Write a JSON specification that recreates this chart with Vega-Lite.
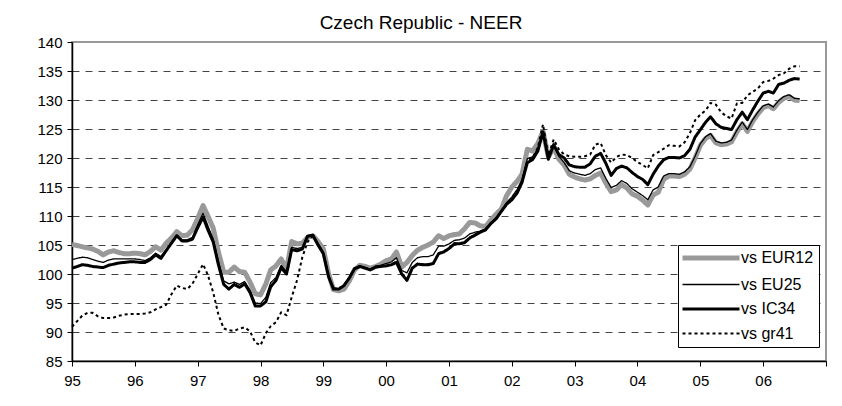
{
  "$schema": "https://vega.github.io/schema/vega-lite/v6.json",
  "width": 754,
  "height": 319,
  "autosize": {"type": "none"},
  "padding": {"left": 72, "top": 42, "right": 16, "bottom": 45},
  "background": "white",
  "title": {"text": "Czech Republic - NEER", "fontSize": 19, "font": "Liberation Sans", "fontWeight": "normal", "color": "black", "anchor": "middle", "frame": "group", "dx": -28, "offset": 2},
  "data": {"values": [
    {"d":"1995-01-01","vs EUR12":105.1,"vs EU25":102.5,"vs IC34":101.0,"vs gr41":90.9},
    {"d":"1995-02-01","vs EUR12":104.9,"vs EU25":102.7,"vs IC34":101.3,"vs gr41":91.9},
    {"d":"1995-03-01","vs EUR12":104.7,"vs EU25":102.9,"vs IC34":101.6,"vs gr41":92.8},
    {"d":"1995-04-01","vs EUR12":104.5,"vs EU25":102.8,"vs IC34":101.5,"vs gr41":93.3},
    {"d":"1995-05-01","vs EUR12":104.3,"vs EU25":102.5,"vs IC34":101.3,"vs gr41":93.3},
    {"d":"1995-06-01","vs EUR12":103.9,"vs EU25":102.2,"vs IC34":101.2,"vs gr41":92.7},
    {"d":"1995-07-01","vs EUR12":103.3,"vs EU25":102.0,"vs IC34":101.1,"vs gr41":92.4},
    {"d":"1995-08-01","vs EUR12":103.8,"vs EU25":102.4,"vs IC34":101.5,"vs gr41":92.4},
    {"d":"1995-09-01","vs EUR12":104.0,"vs EU25":102.6,"vs IC34":101.7,"vs gr41":92.5},
    {"d":"1995-10-01","vs EUR12":103.7,"vs EU25":102.6,"vs IC34":101.9,"vs gr41":92.8},
    {"d":"1995-11-01","vs EUR12":103.5,"vs EU25":102.6,"vs IC34":102.0,"vs gr41":93.0},
    {"d":"1995-12-01","vs EUR12":103.5,"vs EU25":102.6,"vs IC34":102.1,"vs gr41":93.1},
    {"d":"1996-01-01","vs EUR12":103.6,"vs EU25":102.6,"vs IC34":102.1,"vs gr41":93.1},
    {"d":"1996-02-01","vs EUR12":103.5,"vs EU25":102.5,"vs IC34":102.0,"vs gr41":93.1},
    {"d":"1996-03-01","vs EUR12":103.3,"vs EU25":102.3,"vs IC34":102.0,"vs gr41":93.2},
    {"d":"1996-04-01","vs EUR12":103.9,"vs EU25":102.8,"vs IC34":102.5,"vs gr41":93.4},
    {"d":"1996-05-01","vs EUR12":104.7,"vs EU25":103.6,"vs IC34":103.3,"vs gr41":93.9},
    {"d":"1996-06-01","vs EUR12":104.1,"vs EU25":103.0,"vs IC34":102.7,"vs gr41":94.3},
    {"d":"1996-07-01","vs EUR12":105.3,"vs EU25":104.2,"vs IC34":104.0,"vs gr41":94.7},
    {"d":"1996-08-01","vs EUR12":106.2,"vs EU25":105.5,"vs IC34":105.3,"vs gr41":96.5},
    {"d":"1996-09-01","vs EUR12":107.3,"vs EU25":106.7,"vs IC34":106.6,"vs gr41":98.0},
    {"d":"1996-10-01","vs EUR12":106.6,"vs EU25":105.9,"vs IC34":105.7,"vs gr41":97.6},
    {"d":"1996-11-01","vs EUR12":106.7,"vs EU25":105.9,"vs IC34":105.7,"vs gr41":97.4},
    {"d":"1996-12-01","vs EUR12":107.6,"vs EU25":106.3,"vs IC34":106.0,"vs gr41":98.3},
    {"d":"1997-01-01","vs EUR12":109.6,"vs EU25":108.5,"vs IC34":108.0,"vs gr41":100.0},
    {"d":"1997-02-01","vs EUR12":111.8,"vs EU25":110.5,"vs IC34":109.8,"vs gr41":101.7},
    {"d":"1997-03-01","vs EUR12":110.0,"vs EU25":108.3,"vs IC34":107.6,"vs gr41":99.8},
    {"d":"1997-04-01","vs EUR12":107.9,"vs EU25":106.0,"vs IC34":105.5,"vs gr41":96.8},
    {"d":"1997-05-01","vs EUR12":103.8,"vs EU25":102.2,"vs IC34":101.6,"vs gr41":93.0},
    {"d":"1997-06-01","vs EUR12":100.3,"vs EU25":98.8,"vs IC34":98.2,"vs gr41":90.6},
    {"d":"1997-07-01","vs EUR12":100.3,"vs EU25":98.3,"vs IC34":97.4,"vs gr41":90.3},
    {"d":"1997-08-01","vs EUR12":101.2,"vs EU25":98.6,"vs IC34":98.2,"vs gr41":90.2},
    {"d":"1997-09-01","vs EUR12":100.4,"vs EU25":98.2,"vs IC34":97.7,"vs gr41":90.6},
    {"d":"1997-10-01","vs EUR12":100.3,"vs EU25":98.7,"vs IC34":98.3,"vs gr41":90.8},
    {"d":"1997-11-01","vs EUR12":98.6,"vs EU25":97.2,"vs IC34":96.8,"vs gr41":90.1},
    {"d":"1997-12-01","vs EUR12":96.6,"vs EU25":95.0,"vs IC34":94.5,"vs gr41":88.2},
    {"d":"1998-01-01","vs EUR12":96.4,"vs EU25":94.9,"vs IC34":94.5,"vs gr41":87.7},
    {"d":"1998-02-01","vs EUR12":98.3,"vs EU25":96.0,"vs IC34":95.2,"vs gr41":89.8},
    {"d":"1998-03-01","vs EUR12":100.7,"vs EU25":98.5,"vs IC34":97.8,"vs gr41":91.0},
    {"d":"1998-04-01","vs EUR12":101.4,"vs EU25":99.4,"vs IC34":98.9,"vs gr41":91.7},
    {"d":"1998-05-01","vs EUR12":102.6,"vs EU25":101.5,"vs IC34":101.1,"vs gr41":93.4},
    {"d":"1998-06-01","vs EUR12":100.8,"vs EU25":100.4,"vs IC34":100.0,"vs gr41":92.9},
    {"d":"1998-07-01","vs EUR12":105.6,"vs EU25":104.6,"vs IC34":104.2,"vs gr41":96.0},
    {"d":"1998-08-01","vs EUR12":105.2,"vs EU25":104.4,"vs IC34":104.0,"vs gr41":98.9},
    {"d":"1998-09-01","vs EUR12":105.3,"vs EU25":104.6,"vs IC34":104.3,"vs gr41":102.9},
    {"d":"1998-10-01","vs EUR12":106.3,"vs EU25":106.6,"vs IC34":106.5,"vs gr41":105.5},
    {"d":"1998-11-01","vs EUR12":106.6,"vs EU25":106.8,"vs IC34":106.7,"vs gr41":106.6},
    {"d":"1998-12-01","vs EUR12":105.6,"vs EU25":105.3,"vs IC34":105.0,"vs gr41":105.1},
    {"d":"1999-01-01","vs EUR12":104.3,"vs EU25":103.8,"vs IC34":103.5,"vs gr41":103.6},
    {"d":"1999-02-01","vs EUR12":100.0,"vs EU25":99.7,"vs IC34":99.5,"vs gr41":99.6},
    {"d":"1999-03-01","vs EUR12":97.3,"vs EU25":97.4,"vs IC34":97.4,"vs gr41":97.5},
    {"d":"1999-04-01","vs EUR12":97.1,"vs EU25":97.4,"vs IC34":97.4,"vs gr41":97.5},
    {"d":"1999-05-01","vs EUR12":97.4,"vs EU25":98.1,"vs IC34":98.0,"vs gr41":98.1},
    {"d":"1999-06-01","vs EUR12":98.8,"vs EU25":99.5,"vs IC34":99.3,"vs gr41":99.4},
    {"d":"1999-07-01","vs EUR12":100.7,"vs EU25":101.0,"vs IC34":100.9,"vs gr41":101.0},
    {"d":"1999-08-01","vs EUR12":101.5,"vs EU25":101.4,"vs IC34":101.3,"vs gr41":101.4},
    {"d":"1999-09-01","vs EUR12":101.3,"vs EU25":101.1,"vs IC34":101.0,"vs gr41":101.1},
    {"d":"1999-10-01","vs EUR12":101.0,"vs EU25":100.8,"vs IC34":100.7,"vs gr41":100.8},
    {"d":"1999-11-01","vs EUR12":101.3,"vs EU25":101.3,"vs IC34":101.2,"vs gr41":101.3},
    {"d":"1999-12-01","vs EUR12":101.7,"vs EU25":101.5,"vs IC34":101.3,"vs gr41":101.4},
    {"d":"2000-01-01","vs EUR12":102.3,"vs EU25":101.8,"vs IC34":101.4,"vs gr41":101.5},
    {"d":"2000-02-01","vs EUR12":102.6,"vs EU25":102.1,"vs IC34":101.6,"vs gr41":101.7},
    {"d":"2000-03-01","vs EUR12":103.8,"vs EU25":102.8,"vs IC34":102.0,"vs gr41":102.1},
    {"d":"2000-04-01","vs EUR12":101.2,"vs EU25":100.6,"vs IC34":100.0,"vs gr41":100.1},
    {"d":"2000-05-01","vs EUR12":102.0,"vs EU25":100.2,"vs IC34":98.9,"vs gr41":99.0},
    {"d":"2000-06-01","vs EUR12":103.2,"vs EU25":102.0,"vs IC34":101.0,"vs gr41":101.1},
    {"d":"2000-07-01","vs EUR12":104.1,"vs EU25":102.8,"vs IC34":101.7,"vs gr41":101.8},
    {"d":"2000-08-01","vs EUR12":104.6,"vs EU25":103.0,"vs IC34":101.6,"vs gr41":101.7},
    {"d":"2000-09-01","vs EUR12":105.0,"vs EU25":103.0,"vs IC34":101.6,"vs gr41":101.7},
    {"d":"2000-10-01","vs EUR12":105.5,"vs EU25":103.3,"vs IC34":101.8,"vs gr41":101.9},
    {"d":"2000-11-01","vs EUR12":106.6,"vs EU25":104.8,"vs IC34":103.5,"vs gr41":103.6},
    {"d":"2000-12-01","vs EUR12":106.1,"vs EU25":104.8,"vs IC34":103.8,"vs gr41":103.9},
    {"d":"2001-01-01","vs EUR12":106.6,"vs EU25":105.2,"vs IC34":104.4,"vs gr41":104.5},
    {"d":"2001-02-01","vs EUR12":106.8,"vs EU25":105.8,"vs IC34":105.2,"vs gr41":105.3},
    {"d":"2001-03-01","vs EUR12":106.9,"vs EU25":105.9,"vs IC34":105.2,"vs gr41":105.3},
    {"d":"2001-04-01","vs EUR12":107.8,"vs EU25":106.2,"vs IC34":105.4,"vs gr41":105.5},
    {"d":"2001-05-01","vs EUR12":108.9,"vs EU25":106.9,"vs IC34":106.2,"vs gr41":106.3},
    {"d":"2001-06-01","vs EUR12":108.8,"vs EU25":107.2,"vs IC34":106.7,"vs gr41":106.8},
    {"d":"2001-07-01","vs EUR12":108.3,"vs EU25":107.4,"vs IC34":107.2,"vs gr41":107.3},
    {"d":"2001-08-01","vs EUR12":108.2,"vs EU25":107.8,"vs IC34":107.6,"vs gr41":107.7},
    {"d":"2001-09-01","vs EUR12":109.3,"vs EU25":108.8,"vs IC34":108.7,"vs gr41":108.8},
    {"d":"2001-10-01","vs EUR12":110.3,"vs EU25":109.7,"vs IC34":109.5,"vs gr41":109.6},
    {"d":"2001-11-01","vs EUR12":111.2,"vs EU25":110.9,"vs IC34":110.8,"vs gr41":110.9},
    {"d":"2001-12-01","vs EUR12":113.5,"vs EU25":112.3,"vs IC34":112.0,"vs gr41":112.1},
    {"d":"2002-01-01","vs EUR12":115.0,"vs EU25":113.3,"vs IC34":112.8,"vs gr41":112.9},
    {"d":"2002-02-01","vs EUR12":116.0,"vs EU25":114.6,"vs IC34":114.0,"vs gr41":114.1},
    {"d":"2002-03-01","vs EUR12":117.2,"vs EU25":116.3,"vs IC34":115.8,"vs gr41":115.9},
    {"d":"2002-04-01","vs EUR12":121.5,"vs EU25":119.9,"vs IC34":119.2,"vs gr41":119.5},
    {"d":"2002-05-01","vs EUR12":121.2,"vs EU25":120.2,"vs IC34":119.7,"vs gr41":120.0},
    {"d":"2002-06-01","vs EUR12":122.5,"vs EU25":121.6,"vs IC34":121.2,"vs gr41":121.8},
    {"d":"2002-07-01","vs EUR12":124.6,"vs EU25":124.6,"vs IC34":124.5,"vs gr41":125.8},
    {"d":"2002-08-01","vs EUR12":120.2,"vs EU25":120.0,"vs IC34":119.8,"vs gr41":120.5},
    {"d":"2002-09-01","vs EUR12":121.8,"vs EU25":122.2,"vs IC34":122.3,"vs gr41":123.2},
    {"d":"2002-10-01","vs EUR12":119.8,"vs EU25":120.3,"vs IC34":120.6,"vs gr41":121.5},
    {"d":"2002-11-01","vs EUR12":118.8,"vs EU25":119.2,"vs IC34":120.0,"vs gr41":120.6},
    {"d":"2002-12-01","vs EUR12":117.2,"vs EU25":117.8,"vs IC34":118.8,"vs gr41":120.3},
    {"d":"2003-01-01","vs EUR12":116.7,"vs EU25":117.4,"vs IC34":118.5,"vs gr41":120.2},
    {"d":"2003-02-01","vs EUR12":116.4,"vs EU25":117.2,"vs IC34":118.4,"vs gr41":120.2},
    {"d":"2003-03-01","vs EUR12":116.2,"vs EU25":117.0,"vs IC34":118.4,"vs gr41":120.3},
    {"d":"2003-04-01","vs EUR12":116.4,"vs EU25":117.3,"vs IC34":119.0,"vs gr41":120.6},
    {"d":"2003-05-01","vs EUR12":117.0,"vs EU25":118.0,"vs IC34":120.3,"vs gr41":122.3},
    {"d":"2003-06-01","vs EUR12":117.4,"vs EU25":118.3,"vs IC34":120.8,"vs gr41":122.6},
    {"d":"2003-07-01","vs EUR12":115.7,"vs EU25":116.5,"vs IC34":119.1,"vs gr41":120.5},
    {"d":"2003-08-01","vs EUR12":114.2,"vs EU25":114.9,"vs IC34":117.0,"vs gr41":119.2},
    {"d":"2003-09-01","vs EUR12":114.5,"vs EU25":115.3,"vs IC34":118.2,"vs gr41":120.2},
    {"d":"2003-10-01","vs EUR12":115.4,"vs EU25":116.1,"vs IC34":118.6,"vs gr41":120.6},
    {"d":"2003-11-01","vs EUR12":114.8,"vs EU25":115.6,"vs IC34":118.3,"vs gr41":120.5},
    {"d":"2003-12-01","vs EUR12":113.8,"vs EU25":114.7,"vs IC34":117.5,"vs gr41":120.0},
    {"d":"2004-01-01","vs EUR12":113.4,"vs EU25":114.1,"vs IC34":116.8,"vs gr41":119.3},
    {"d":"2004-02-01","vs EUR12":112.7,"vs EU25":113.5,"vs IC34":116.3,"vs gr41":118.8},
    {"d":"2004-03-01","vs EUR12":111.9,"vs EU25":112.8,"vs IC34":115.4,"vs gr41":118.2},
    {"d":"2004-04-01","vs EUR12":113.6,"vs EU25":114.5,"vs IC34":117.2,"vs gr41":120.5},
    {"d":"2004-05-01","vs EUR12":114.1,"vs EU25":115.0,"vs IC34":118.6,"vs gr41":121.0},
    {"d":"2004-06-01","vs EUR12":116.3,"vs EU25":116.9,"vs IC34":119.7,"vs gr41":121.6},
    {"d":"2004-07-01","vs EUR12":116.9,"vs EU25":117.3,"vs IC34":120.1,"vs gr41":122.2},
    {"d":"2004-08-01","vs EUR12":116.9,"vs EU25":117.3,"vs IC34":120.1,"vs gr41":122.1},
    {"d":"2004-09-01","vs EUR12":116.8,"vs EU25":117.2,"vs IC34":120.0,"vs gr41":122.0},
    {"d":"2004-10-01","vs EUR12":117.2,"vs EU25":117.6,"vs IC34":120.4,"vs gr41":122.7},
    {"d":"2004-11-01","vs EUR12":118.1,"vs EU25":118.5,"vs IC34":121.5,"vs gr41":124.3},
    {"d":"2004-12-01","vs EUR12":120.0,"vs EU25":120.3,"vs IC34":123.6,"vs gr41":126.5},
    {"d":"2005-01-01","vs EUR12":122.2,"vs EU25":122.5,"vs IC34":124.9,"vs gr41":127.5},
    {"d":"2005-02-01","vs EUR12":123.4,"vs EU25":123.7,"vs IC34":126.2,"vs gr41":128.2},
    {"d":"2005-03-01","vs EUR12":123.9,"vs EU25":124.2,"vs IC34":127.1,"vs gr41":129.5},
    {"d":"2005-04-01","vs EUR12":122.6,"vs EU25":122.9,"vs IC34":125.9,"vs gr41":129.2},
    {"d":"2005-05-01","vs EUR12":122.3,"vs EU25":122.6,"vs IC34":125.3,"vs gr41":127.9},
    {"d":"2005-06-01","vs EUR12":122.4,"vs EU25":122.7,"vs IC34":125.1,"vs gr41":127.2},
    {"d":"2005-07-01","vs EUR12":122.8,"vs EU25":123.1,"vs IC34":124.9,"vs gr41":126.8},
    {"d":"2005-08-01","vs EUR12":124.5,"vs EU25":124.8,"vs IC34":126.6,"vs gr41":129.4},
    {"d":"2005-09-01","vs EUR12":125.9,"vs EU25":126.2,"vs IC34":127.9,"vs gr41":129.5},
    {"d":"2005-10-01","vs EUR12":124.6,"vs EU25":124.9,"vs IC34":126.6,"vs gr41":130.8},
    {"d":"2005-11-01","vs EUR12":126.3,"vs EU25":126.6,"vs IC34":128.3,"vs gr41":131.4},
    {"d":"2005-12-01","vs EUR12":127.6,"vs EU25":127.9,"vs IC34":129.8,"vs gr41":132.0},
    {"d":"2006-01-01","vs EUR12":128.7,"vs EU25":129.0,"vs IC34":131.2,"vs gr41":133.1},
    {"d":"2006-02-01","vs EUR12":129.0,"vs EU25":129.3,"vs IC34":131.5,"vs gr41":133.3},
    {"d":"2006-03-01","vs EUR12":128.5,"vs EU25":128.8,"vs IC34":131.2,"vs gr41":133.7},
    {"d":"2006-04-01","vs EUR12":129.6,"vs EU25":129.9,"vs IC34":132.7,"vs gr41":134.3},
    {"d":"2006-05-01","vs EUR12":130.3,"vs EU25":130.6,"vs IC34":132.9,"vs gr41":134.6},
    {"d":"2006-06-01","vs EUR12":130.6,"vs EU25":130.9,"vs IC34":133.4,"vs gr41":135.4},
    {"d":"2006-07-01","vs EUR12":130.0,"vs EU25":130.3,"vs IC34":133.7,"vs gr41":135.8},
    {"d":"2006-08-01","vs EUR12":129.9,"vs EU25":130.2,"vs IC34":133.6,"vs gr41":135.8}
  ]},
  "transform": [
    {"fold": ["vs EUR12", "vs EU25", "vs IC34", "vs gr41"], "as": ["series", "value"]}
  ],
  "mark": {"type": "line", "strokeJoin": "round"},
  "encoding": {
    "x": {
      "field": "d", "type": "temporal",
      "scale": {"type": "utc", "domain": [{"year": 1995, "month": 1, "date": 1, "utc": true}, {"year": 2007, "month": 1, "date": 1, "utc": true}]},
      "axis": {
        "title": null, "grid": false,
        "values": [
          {"year": 1995, "month": 1, "date": 1, "utc": true},
          {"year": 1996, "month": 1, "date": 1, "utc": true},
          {"year": 1997, "month": 1, "date": 1, "utc": true},
          {"year": 1998, "month": 1, "date": 1, "utc": true},
          {"year": 1999, "month": 1, "date": 1, "utc": true},
          {"year": 2000, "month": 1, "date": 1, "utc": true},
          {"year": 2001, "month": 1, "date": 1, "utc": true},
          {"year": 2002, "month": 1, "date": 1, "utc": true},
          {"year": 2003, "month": 1, "date": 1, "utc": true},
          {"year": 2004, "month": 1, "date": 1, "utc": true},
          {"year": 2005, "month": 1, "date": 1, "utc": true},
          {"year": 2006, "month": 1, "date": 1, "utc": true},
          {"year": 2007, "month": 1, "date": 1, "utc": true}
        ],
        "labelExpr": "utcyear(datum.value) == 2007 ? '' : utcFormat(datum.value, '%y')",
        "labelPadding": 7, "labelDx": 2, "tickSize": 5, "labelFlush": false, "labelOverlap": false
      }
    },
    "y": {
      "field": "value", "type": "quantitative",
      "scale": {"domain": [85, 140], "nice": false, "zero": false},
      "axis": {
        "title": null,
        "values": [85, 90, 95, 100, 105, 110, 115, 120, 125, 130, 135, 140],
        "grid": true, "gridDash": [7, 6], "gridColor": "#444444", "gridWidth": 1,
        "gridOpacity": {"condition": {"test": "datum.value == 140 || datum.value == 85", "value": 0}, "value": 1},
        "tickSize": 5, "labelPadding": 5, "labelFlush": false, "labelOverlap": false
      }
    },
    "color": {
      "field": "series", "type": "nominal",
      "scale": {"domain": ["vs EUR12", "vs EU25", "vs IC34", "vs gr41"], "range": ["#999999", "#000000", "#000000", "#000000"]},
      "legend": {"title": null}
    },
    "strokeWidth": {
      "field": "series", "type": "nominal",
      "scale": {"type": "ordinal", "domain": ["vs EUR12", "vs EU25", "vs IC34", "vs gr41"], "range": [5, 1.3, 3, 2]},
      "legend": {"title": null}
    },
    "strokeDash": {
      "field": "series", "type": "nominal",
      "scale": {"domain": ["vs EUR12", "vs EU25", "vs IC34", "vs gr41"], "range": [[1, 0], [1, 0], [1, 0], [3, 3]]},
      "legend": {"title": null}
    }
  },
  "config": {
    "font": "Liberation Sans",
    "view": {"stroke": "#999999", "strokeWidth": 2},
    "axis": {
      "labelFont": "Liberation Sans", "labelFontSize": 15, "labelColor": "black",
      "tickColor": "black", "domainColor": "black", "domainWidth": 1.5, "tickWidth": 1
    },
    "legend": {
      "orient": "none", "legendX": 606, "legendY": 203,
      "strokeColor": "black", "fillColor": "white", "padding": 5,
      "symbolType": "M-28.5,0H28.5", "symbolSize": 4,
      "symbolOffset": 20, "labelOffset": 22,
      "labelFont": "Liberation Sans", "labelFontSize": 16, "labelColor": "black",
      "rowPadding": 8.5, "labelLimit": 200
    }
  }
}
